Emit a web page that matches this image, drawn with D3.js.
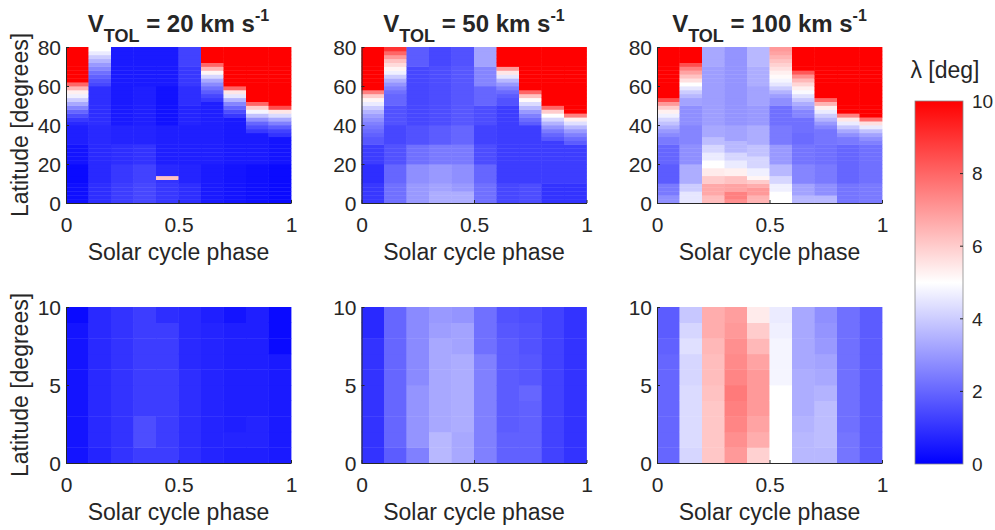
<!DOCTYPE html>
<html><head><meta charset="utf-8">
<script src="https://cdn.jsdelivr.net/npm/d3@7"></script>
<style>
body{margin:0;background:#fff}
text{font-family:"Liberation Sans",Arial,Helvetica,sans-serif;fill:#262626}
</style>
</head><body>
<svg id="chart" width="995" height="530"></svg>
<script>
// ---------- data ----------
const phaseStart = [0,0.1,0.2,0.3,0.4,0.5,0.6,0.7,0.8,0.9];
const phaseWidth = 0.1;
const speeds = ["20","50","100"];
const xTicks = [0,0.5,1];
const yTicksTop = [0,20,40,60,80];
const yTicksBottom = [0,5,10];
const cbTicks = [0,2,4,6,8,10];
const latStepTop = 2;      // degrees per row, top panels (0-80)
const latStepBottom = 1;   // degrees per row, bottom panels (0-10)

// top row: each column listed from latitude 0 upward (2-degree rows)
const v20Top = [
 [0.3,0.3,0.3,0.3,0.3,0.2,0.2,0.2,0.2,0.2, 0.4,0.4,0.4,0.4,0.4,0.6,0.6,0.6,0.6,0.6, 0.8,1.1,1.5,2.0,2.6,3.3,4.0,4.7,5.3,6.5, 8,10,10,10,10,10,10,10,10,10],
 [0.9,0.9,0.9,0.9,0.9,0.8,0.8,0.8,0.8,0.8, 0.8,0.8,0.8,0.8,0.8,0.8,0.8,0.8,0.8,0.8, 0.9,0.9,0.9,0.9,0.9,0.9,0.9,0.9,0.9,0.9, 1.4,1.6,1.9,2.2,2.6,3.0,3.5,4.0,4.6,5.0],
 [1.2,1.2,1.2,1.2,1.2,1.1,1.1,1.1,1.1,1.1, 0.9,0.9,0.9,0.9,0.9,0.7,0.7,0.7,0.7,0.7, 0.5,0.5,0.5,0.5,0.5,0.5,0.5,0.5,0.5,0.5, 0.5,0.5,0.5,0.5,0.5,0.5,0.5,0.5,0.5,0.5],
 [1.4,1.4,1.4,1.4,1.4,1.3,1.3,1.3,1.3,1.3, 1.0,1.0,1.0,1.0,1.0,0.7,0.7,0.7,0.7,0.7, 0.6,0.6,0.6,0.6,0.6,0.6,0.6,0.6,0.6,0.6, 0.5,0.5,0.5,0.5,0.5,0.5,0.5,0.5,0.5,0.5],
 [1.1,1.1,1.1,1.1,1.1,1.0,6.2,0.8,0.8,0.8, 0.6,0.6,0.6,0.6,0.6,0.6,0.6,0.6,0.6,0.6, 0.35,0.35,0.35,0.35,0.35,0.35,0.35,0.35,0.35,0.35, 0.5,0.5,0.5,0.5,0.5,0.5,0.5,0.5,0.5,0.5],
 [0.9,0.9,0.9,0.9,0.9,0.7,0.7,0.7,0.7,0.7, 0.6,0.6,0.6,0.6,0.6,0.6,0.6,0.6,0.6,0.6, 0.7,0.7,0.7,0.7,0.7,0.9,0.9,0.9,0.9,0.9, 1.1,1.1,1.1,1.1,1.1,1.3,1.3,1.3,1.3,1.3],
 [0.5,0.5,0.5,0.5,0.5,0.5,0.5,0.5,0.5,0.5, 0.6,0.6,0.6,0.6,0.6,0.6,0.6,0.6,0.6,0.6, 0.6,0.6,0.6,0.6,0.6,0.6,1.1,1.4,1.8,2.2, 2.7,3.3,4.2,5.2,6.5,8,10,10,10,10],
 [0.4,0.4,0.4,0.4,0.4,0.4,0.4,0.4,0.4,0.4, 0.5,0.5,0.5,0.5,0.5,0.5,0.5,0.5,0.5,0.5, 0.5,0.5,1.1,1.5,2.0,2.6,3.5,4.5,5.5,8, 10,10,10,10,10,10,10,10,10,10],
 [0.3,0.3,0.3,0.3,0.3,0.3,0.3,0.3,0.3,0.3, 0.5,0.5,0.5,0.5,0.5,0.5,0.5,0.5,1.1,1.5, 2.0,2.8,3.8,4.8,6.0,8,10,10,10,10, 10,10,10,10,10,10,10,10,10,10],
 [0.2,0.2,0.2,0.2,0.2,0.2,0.2,0.2,0.2,0.2, 0.4,0.4,0.4,0.4,0.4,0.4,0.4,1.0,1.3,1.8, 2.5,3.3,4.3,5.5,8.5,10,10,10,10,10, 10,10,10,10,10,10,10,10,10,10]
];
const v50Top = [
 [1.1,1.1,1.1,1.1,1.1,0.9,0.9,0.9,0.9,0.9, 1.2,1.2,1.2,1.2,1.2,1.7,1.7,1.9,2.1,2.3, 2.5,2.8,3.1,3.5,4.0,4.6,5.2,6.0,7.5,10, 10,10,10,10,10,10,10,10,10,10],
 [2.2,2.2,2.2,2.2,2.2,2.0,2.0,2.0,2.0,2.0, 1.6,1.6,1.6,1.6,1.6,1.4,1.4,1.4,1.4,1.4, 1.6,1.6,1.6,1.6,1.6,2.0,2.0,2.0,2.2,2.5, 2.9,3.4,4.0,4.7,5.2,5.7,6.2,7.0,8.0,9.0],
 [3.0,3.0,3.0,3.0,3.0,2.8,2.8,2.8,2.8,2.8, 2.2,2.2,2.2,2.2,2.2,1.6,1.6,1.6,1.6,1.6, 1.4,1.4,1.4,1.4,1.4,1.4,1.4,1.4,1.4,1.4, 1.4,1.4,1.4,1.4,1.4,1.8,1.8,1.8,1.8,1.8],
 [3.4,3.4,3.4,3.2,3.2,3.0,3.0,3.0,3.0,3.0, 2.4,2.4,2.4,2.4,2.4,1.8,1.8,1.8,1.8,1.8, 1.5,1.5,1.5,1.5,1.5,1.5,1.5,1.5,1.5,1.5, 1.5,1.5,1.5,1.5,1.5,1.4,1.4,1.4,1.4,1.4],
 [3.4,3.4,3.4,3.0,3.0,2.8,2.8,2.8,2.8,2.8, 2.4,2.4,2.4,2.4,2.4,2.0,2.0,2.0,2.0,2.0, 1.7,1.7,1.7,1.7,1.7,1.7,1.7,1.7,1.7,1.7, 1.7,1.7,1.7,1.7,1.7,1.6,1.6,1.6,1.6,1.6],
 [2.2,2.2,2.2,2.2,2.2,2.0,2.0,2.0,2.0,2.0, 1.5,1.5,1.5,1.5,1.5,1.3,1.3,1.3,1.3,1.3, 1.5,1.5,1.5,1.5,1.5,2.0,2.0,2.0,2.0,2.0, 2.6,2.6,2.6,2.6,2.6,3.2,3.2,3.2,3.2,3.2],
 [1.4,1.4,1.4,1.4,1.4,1.2,1.2,1.2,1.2,1.2, 1.2,1.2,1.2,1.2,1.2,1.2,1.2,1.2,1.2,1.2, 1.2,1.2,1.2,1.2,1.2,1.6,1.6,1.8,2.1,2.5, 3.0,3.6,4.5,5.5,7,10,10,10,10,10],
 [1.5,1.5,1.5,1.5,1.5,1.2,1.2,1.2,1.2,1.2, 1.2,1.2,1.2,1.2,1.2,1.2,1.2,1.2,1.2,1.2, 1.8,2.1,2.5,3.0,3.6,4.3,5.1,6.2,8,10, 10,10,10,10,10,10,10,10,10,10],
 [1.0,1.0,1.0,1.0,1.0,1.2,1.2,1.2,1.2,1.2, 1.2,1.2,1.2,1.2,1.2,1.2,1.7,2.0,2.4,2.9, 3.5,4.2,5.0,6.0,8,10,10,10,10,10, 10,10,10,10,10,10,10,10,10,10],
 [1.0,1.0,1.0,1.0,1.0,1.2,1.2,1.2,1.2,1.2, 1.2,1.2,1.2,1.2,1.2,1.8,2.1,2.5,3.0,3.6, 4.4,5.3,7.5,10,10,10,10,10,10,10, 10,10,10,10,10,10,10,10,10,10]
];
const v100Top = [
 [2.8,2.8,2.4,2.4,2.4,1.8,1.8,1.8,1.8,1.8, 2.0,2.0,2.0,2.0,2.0,2.4,2.4,2.7,3.0,3.4, 3.8,4.2,4.7,5.3,6.0,7.0,8.5,10,10,10, 10,10,10,10,10,10,10,10,10,10],
 [4.5,4.5,4.5,4.0,4.0,3.4,3.4,3.4,3.4,3.4, 2.8,2.8,2.8,2.8,2.8,2.6,2.6,2.6,2.6,2.6, 2.8,2.8,2.8,2.8,2.8,3.2,3.2,3.6,4.0,4.5, 5.0,5.6,6.2,6.8,7.5,8.5,10,10,10,10],
 [6.3,6.3,6.7,6.7,6.7,6.0,6.0,5.4,5.4,5.0, 5.0,4.6,4.6,4.2,4.2,3.7,3.7,3.3,3.3,3.3, 3.1,3.1,3.1,3.1,3.1,3.1,3.1,3.1,3.1,3.1, 3.1,3.1,3.1,3.1,3.1,3.3,3.3,3.3,3.3,3.3],
 [7.2,7.5,7.5,6.8,6.8,6.2,6.2,5.3,5.3,4.6, 4.6,4.2,4.2,3.6,3.6,3.6,3.2,3.2,3.2,3.2, 2.9,2.9,2.9,2.9,2.9,2.9,2.9,2.9,2.9,2.9, 2.9,2.9,2.9,2.9,2.9,2.9,2.9,2.9,2.9,2.9],
 [6.5,6.5,7.0,7.0,6.6,6.0,5.2,4.7,4.7,4.2, 4.2,4.2,3.8,3.8,3.8,3.4,3.4,3.4,3.4,3.4, 3.0,3.0,3.0,3.0,3.0,3.2,3.2,3.2,3.2,3.2, 3.4,3.4,3.4,3.4,3.4,3.6,3.6,3.6,3.6,3.6],
 [5.0,5.0,5.0,4.7,4.7,4.2,4.2,3.6,3.6,3.6, 3.0,3.0,3.0,3.0,3.0,2.4,2.4,2.4,2.4,2.4, 2.2,2.2,2.2,2.2,2.2,2.8,2.8,3.1,3.5,4.0, 4.5,4.8,5.1,5.3,5.6,5.9,6.2,6.5,6.8,7.0],
 [3.6,3.6,3.2,3.2,3.2,2.6,2.6,2.6,2.6,2.6, 2.3,2.3,2.3,2.3,2.3,2.1,2.1,2.1,2.2,2.2, 2.2,2.2,2.6,2.6,3.0,3.4,3.9,4.4,4.9,5.3, 5.8,6.4,7.2,8.3,10,10,10,10,10,10],
 [3.6,3.6,2.8,2.8,2.8,2.4,2.4,2.4,2.4,2.4, 2.2,2.2,2.2,2.2,2.2,2.3,2.3,2.3,2.3,2.6, 3.0,3.5,4.0,4.6,5.3,6.5,8,10,10,10, 10,10,10,10,10,10,10,10,10,10],
 [2.3,2.3,2.3,2.3,2.3,2.0,2.0,2.0,2.0,2.0, 2.0,2.0,2.0,2.0,2.0,2.4,2.4,2.8,3.3,3.9, 4.6,5.5,7.5,10,10,10,10,10,10,10, 10,10,10,10,10,10,10,10,10,10],
 [2.4,2.4,2.4,2.4,2.4,2.2,2.2,2.2,2.2,2.2, 2.2,2.2,2.2,2.2,2.2,2.5,2.8,3.2,3.8,4.6, 5.6,7.8,10,10,10,10,10,10,10,10, 10,10,10,10,10,10,10,10,10,10]
];

// bottom row: each column listed from latitude 0 upward (1-degree rows)
const v20Bottom = [
 [0.4,0.4,0.4,0.4,0.4,0.4,0.4,0.4,0.4,0.2],
 [0.7,0.8,0.8,0.8,0.8,0.8,0.8,0.8,0.8,0.8],
 [1.0,1.0,1.0,1.0,1.0,1.0,1.0,1.0,1.0,1.0],
 [1.2,1.5,1.5,1.2,1.2,1.2,1.2,1.2,1.2,1.2],
 [1.2,1.2,1.2,1.2,1.2,1.2,1.2,1.2,1.2,0.9],
 [0.9,0.9,0.9,0.9,0.9,0.9,0.8,0.8,0.8,0.8],
 [0.7,0.7,0.7,0.7,0.7,0.7,0.7,0.7,0.7,0.6],
 [0.6,0.7,0.6,0.6,0.6,0.6,0.6,0.6,0.6,0.4],
 [0.6,0.7,0.7,0.6,0.6,0.6,0.6,0.6,0.6,0.6],
 [0.5,0.5,0.5,0.5,0.5,0.5,0.5,0.2,0.2,0.2]
];
const v50Bottom = [
 [1.0,1.0,1.0,1.0,1.0,1.0,1.0,1.0,0.8,0.8],
 [1.8,2.0,2.0,2.0,2.0,2.0,2.0,2.0,2.0,2.0],
 [2.5,2.9,2.9,2.9,2.9,2.7,2.7,2.7,2.7,2.7],
 [3.6,3.6,3.3,3.3,3.3,3.3,3.3,3.3,3.1,3.0],
 [3.3,3.3,3.4,3.4,3.4,3.4,3.4,3.2,3.2,2.9],
 [2.5,2.5,2.5,2.5,2.5,2.5,2.5,2.2,2.2,2.2],
 [1.9,1.9,1.8,1.8,1.8,1.8,1.8,1.8,1.7,1.6],
 [1.9,1.9,1.9,1.9,2.0,1.7,1.7,1.6,1.6,1.5],
 [1.3,1.3,1.3,1.3,1.3,1.3,1.3,1.3,1.3,1.3],
 [1.0,1.0,1.0,1.0,1.0,1.0,1.0,1.0,1.0,1.0]
];
const v100Bottom = [
 [2.0,2.0,2.0,2.0,2.0,2.0,2.0,1.9,1.8,1.8],
 [4.2,4.3,4.3,4.3,4.3,4.2,4.2,4.4,4.2,3.9],
 [6.1,6.1,6.1,6.1,6.2,6.3,6.3,6.4,6.6,6.6],
 [7.0,7.2,7.4,7.5,7.6,7.4,7.3,7.2,7.0,6.9],
 [5.9,6.6,6.8,7.0,7.0,7.0,6.8,6.4,6.0,5.4],
 [5.0,5.0,5.0,5.0,5.0,4.8,4.8,4.8,4.7,4.6],
 [3.6,3.6,3.5,3.4,3.4,3.4,3.3,3.3,3.3,3.3],
 [3.6,3.7,3.7,3.7,3.5,3.3,3.2,3.0,2.9,2.8],
 [2.3,2.3,2.2,2.2,2.2,2.2,2.2,2.2,2.2,2.2],
 [1.8,1.8,1.8,1.8,1.8,1.8,1.8,1.8,1.8,1.8]
];

// ---------- layout ----------
const svg = d3.select("#chart");
const colX = [66, 361.5, 657];
const rowY = [47, 307];
const W = 225, H = 156;

const color = d3.scaleLinear().domain([0,5,10])
  .range(["#0000ff","#ffffff","#ff0000"]).interpolate(d3.interpolateRgb).clamp(true);

const panels = [
  {r:0,c:0,data:v20Top,max:80,step:latStepTop,ticks:yTicksTop},
  {r:0,c:1,data:v50Top,max:80,step:latStepTop,ticks:yTicksTop},
  {r:0,c:2,data:v100Top,max:80,step:latStepTop,ticks:yTicksTop},
  {r:1,c:0,data:v20Bottom,max:10,step:latStepBottom,ticks:yTicksBottom},
  {r:1,c:1,data:v50Bottom,max:10,step:latStepBottom,ticks:yTicksBottom},
  {r:1,c:2,data:v100Bottom,max:10,step:latStepBottom,ticks:yTicksBottom}
];

panels.forEach(p => {
  const x0 = colX[p.c], y0 = rowY[p.r];
  const x = d3.scaleLinear().domain([0,1]).range([x0, x0+W]);
  const y = d3.scaleLinear().domain([0,p.max]).range([y0+H, y0]);
  const cells = [];
  p.data.forEach((col,i) => col.forEach((v,j) => cells.push({ph:phaseStart[i], lat:j*p.step, v})));
  const g = svg.append("g");
  g.selectAll("rect").data(cells).join("rect")
    .attr("x", d => x(d.ph))
    .attr("width", d => x(d.ph+phaseWidth)-x(d.ph)+0.4)
    .attr("y", d => y(d.lat+p.step))
    .attr("height", d => y(d.lat)-y(d.lat+p.step)+0.4)
    .attr("fill", d => color(d.v));

  const ax = svg.append("g").attr("transform",`translate(0,${y0+H})`)
    .call(d3.axisBottom(x).tickValues(xTicks).tickSizeInner(-3).tickSizeOuter(0)
      .tickPadding(14).tickFormat(d3.format("")));
  const ay = svg.append("g").attr("transform",`translate(${x0},0)`)
    .call(d3.axisLeft(y).tickValues(p.ticks).tickSizeInner(-3).tickSizeOuter(0)
      .tickPadding(5).tickFormat(d3.format("d")));
  [ax,ay].forEach(a => {
    a.selectAll("text").style("font-size","21px").attr("fill","#262626");
    a.selectAll("path,line").attr("stroke","#262626");
  });
  ay.selectAll("text").attr("dy","0.36em");

  svg.append("text").attr("x", x0+W/2).attr("y", p.r===0 ? 260 : 520)
    .attr("text-anchor","middle").style("font-size","23px").text("Solar cycle phase");

  if (p.c === 0) {
    svg.append("text").attr("transform",`translate(28,${y0+H/2}) rotate(-90)`)
      .attr("text-anchor","middle").style("font-size","23px").text("Latitude [degrees]");
  }
  if (p.r === 0) {
    const t = svg.append("text").attr("x", x0+W/2).attr("y", 32)
      .attr("text-anchor","middle").style("font-size","24px").style("font-weight","bold");
    t.append("tspan").text("V");
    t.append("tspan").attr("dy", 10).style("font-size","18px").text("TOL");
    t.append("tspan").attr("dy", -10).text(` = ${speeds[p.c]} km s`);
    t.append("tspan").attr("dy", -11).style("font-size","16px").text("-1");
  }
});

// ---------- colorbar ----------
const cbX = 915, cbW = 48, cbTop = 101, cbBot = 464;
const cy = d3.scaleLinear().domain([0,10]).range([cbBot, cbTop]);
const grad = svg.append("defs").append("linearGradient").attr("id","cb")
  .attr("x1",0).attr("y1",1).attr("x2",0).attr("y2",0);
color.domain().forEach(v => grad.append("stop").attr("offset", v/10).attr("stop-color", color(v)));
svg.append("rect").attr("x",cbX).attr("y",cbTop).attr("width",cbW).attr("height",cbBot-cbTop)
  .attr("fill","url(#cb)").attr("stroke","#8a8a8a").attr("stroke-width",0.8);
svg.append("g").selectAll("line").data(cbTicks.slice(1,-1)).join("line")
  .attr("x1",cbX+cbW-3).attr("x2",cbX+cbW).attr("y1",d=>cy(d)).attr("y2",d=>cy(d))
  .attr("stroke","#262626");
svg.append("g").selectAll("text").data(cbTicks).join("text")
  .attr("x",cbX+cbW+9).attr("y",d=>cy(d)).attr("dy","0.36em")
  .style("font-size","19px").text(d=>d);
svg.append("text").attr("x",945).attr("y",78).attr("text-anchor","middle")
  .style("font-size","23px").text("λ [deg]");
</script>
</body></html>
